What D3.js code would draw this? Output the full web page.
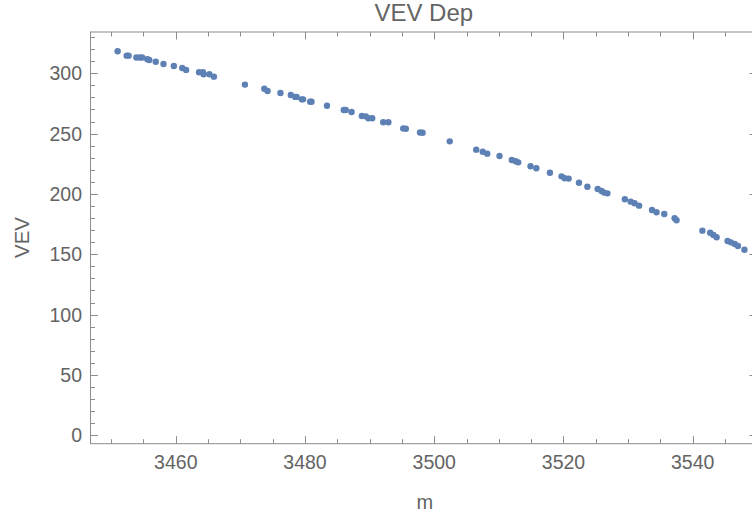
<!DOCTYPE html>
<html>
<head>
<meta charset="utf-8">
<script src="https://cdn.jsdelivr.net/npm/d3@7"></script>
<style>
  html, body { margin: 0; padding: 0; background: #fff; }
  svg { display: block; }
  text { font-family: "Liberation Sans", Arial, sans-serif; fill: #646464; }
</style>
</head>
<body>
<svg id="chart" width="752" height="517"></svg>
<script>
// Measured VEV against m
const mValues = [
  3451.0, 3452.4, 3452.7, 3453.9, 3454.4, 3454.8, 3455.6, 3455.9, 3456.9, 3458.1,
  3459.7, 3461.0, 3461.6, 3463.6, 3464.2, 3464.3, 3465.2, 3465.9, 3470.7, 3473.7,
  3474.2, 3476.2, 3477.8, 3478.5, 3478.7, 3479.5, 3479.7, 3480.8, 3481.0, 3483.4,
  3486.0, 3486.3, 3487.2, 3488.8, 3489.4, 3489.8, 3490.4, 3492.1, 3492.9, 3495.2,
  3495.6, 3497.8, 3498.2, 3502.4, 3506.5, 3507.5, 3508.2, 3510.1, 3512.0, 3512.6,
  3513.0, 3514.9, 3515.8, 3517.9, 3519.7, 3520.2, 3520.8, 3522.4, 3523.7, 3525.3,
  3525.9, 3526.3, 3526.8, 3529.5, 3530.4, 3531.0, 3531.7, 3533.7, 3534.4, 3535.6,
  3537.2, 3537.5, 3541.5, 3542.7, 3543.2, 3543.7, 3545.4, 3545.9, 3546.5, 3547.0,
  3548.0
];
const vevValues = [
  318.2, 314.6, 314.6, 313.1, 313.1, 313.1, 311.6, 311.0, 309.6, 307.7,
  306.0, 304.4, 302.8, 300.8, 300.8, 299.2, 299.2, 297.2, 290.6, 287.2,
  285.3, 283.7, 282.0, 280.4, 280.4, 278.4, 278.4, 276.5, 276.5, 273.1,
  269.6, 269.6, 267.9, 264.6, 264.3, 262.7, 262.7, 259.4, 259.4, 254.3,
  254.0, 250.9, 250.7, 243.6, 236.7, 235.0, 233.4, 231.5, 228.1, 227.1,
  226.2, 222.9, 221.3, 217.6, 214.6, 213.0, 212.7, 209.3, 206.0, 204.1,
  202.5, 201.1, 200.5, 195.6, 193.6, 192.3, 190.3, 186.7, 184.8, 183.4,
  179.8, 178.2, 169.6, 167.9, 166.0, 164.1, 161.0, 159.9, 158.5, 156.9,
  153.8
];
const xMajorTicks = [3460, 3480, 3500, 3520, 3540];
const yMajorTicks = [0, 50, 100, 150, 200, 250, 300];
const xDomain = [3446.8, 3549.95];
const yDomain = [-6.96, 334.2];
const chartTitle = "VEV Dep";
const xLabel = "m";
const yLabel = "VEV";

const svg = d3.select("#chart");
const frame = { left: 90.5, right: 757, top: 32, bottom: 443.7 };

const x = d3.scaleLinear().domain(xDomain).range([frame.left, frame.right]);
const y = d3.scaleLinear().domain(yDomain).range([frame.bottom, frame.top]);

const xMinor = d3.range(3450, 3551, 5).filter(v => !xMajorTicks.includes(v));
const yMinor = d3.range(0, 331, 10).filter(v => !yMajorTicks.includes(v));

const frameColor = "#8c8c8c";
const majorLen = 7.5, minorLen = 4.5;

// Frame ticks on all four sides (inward), labels only bottom and left
const fr = svg.append("g").attr("stroke", frameColor).attr("stroke-width", 1);

function xTicks(vals, len) {
  vals.forEach(v => {
    const px = Math.round(x(v)) + 0.5;
    fr.append("line").attr("x1", px).attr("x2", px)
      .attr("y1", frame.bottom).attr("y2", frame.bottom - len);
    fr.append("line").attr("x1", px).attr("x2", px)
      .attr("y1", frame.top).attr("y2", frame.top + len);
  });
}
function yTicks(vals, len) {
  vals.forEach(v => {
    const py = Math.round(y(v)) + 0.5;
    fr.append("line").attr("y1", py).attr("y2", py)
      .attr("x1", frame.left).attr("x2", frame.left + len);
    fr.append("line").attr("y1", py).attr("y2", py)
      .attr("x1", frame.right).attr("x2", frame.right - len);
  });
}
xTicks(xMajorTicks, majorLen);
xTicks(xMinor, minorLen);
yTicks(yMajorTicks, majorLen);
yTicks(yMinor, minorLen);

fr.append("rect")
  .attr("x", frame.left).attr("y", frame.top)
  .attr("width", frame.right - frame.left)
  .attr("height", frame.bottom - frame.top)
  .attr("fill", "none");

// Tick labels
const tickFont = 19.5;
svg.append("g").selectAll("text").data(xMajorTicks).join("text")
  .attr("x", d => x(d)).attr("y", 469)
  .attr("text-anchor", "middle")
  .attr("font-size", tickFont)
  .text(d => d);

svg.append("g").selectAll("text").data(yMajorTicks).join("text")
  .attr("x", 82).attr("y", d => y(d) + 7)
  .attr("text-anchor", "end")
  .attr("font-size", tickFont)
  .text(d => d);

// Titles
svg.append("text")
  .attr("x", (frame.left + frame.right) / 2).attr("y", 20.5)
  .attr("text-anchor", "middle").attr("font-size", 24)
  .text(chartTitle);

svg.append("text")
  .attr("x", (frame.left + frame.right) / 2 + 1).attr("y", 509)
  .attr("text-anchor", "middle").attr("font-size", 20)
  .text(xLabel);

svg.append("text")
  .attr("transform", "translate(28.5," + 237.5 + ") rotate(-90)")
  .attr("text-anchor", "middle").attr("font-size", 20.5)
  .text(yLabel);

// Points
const pts = d3.zip(mValues, vevValues);
svg.append("g")
  .selectAll("circle").data(pts).join("circle")
  .attr("cx", d => x(d[0]))
  .attr("cy", d => y(d[1]))
  .attr("r", 3.2)
  .attr("fill", "#5e81b5");
</script>
</body>
</html>
